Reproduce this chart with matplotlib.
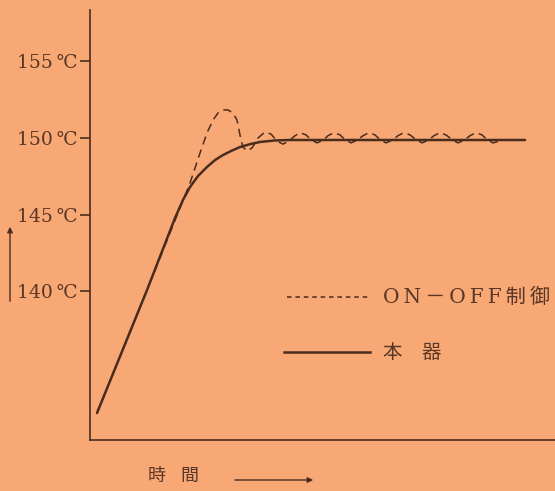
import matplotlib
matplotlib.use("Agg")
import matplotlib.pyplot as plt

# ---- data (time in arbitrary units, temperature in ℃) ----
solid_t = [7, 57, 85, 93, 100, 108, 117, 125, 133, 142, 150, 160, 170, 185, 200, 435]
solid_T = [132.06, 140.08, 144.78, 145.96, 146.8, 147.52, 148.11, 148.56, 148.89,
           149.18, 149.41, 149.6, 149.74, 149.84, 149.87, 149.87]

dash_t = [7, 57, 100, 110, 117, 123, 128, 133, 138, 143, 147, 149, 151, 153, 157, 162,
          168, 175, 181, 187, 193,
          199, 204, 210, 216, 221, 227, 233, 238, 244, 250, 255, 261, 267, 273, 279, 285,
          290, 296, 302, 308, 314, 320, 326, 332, 338, 344, 350, 356, 362, 368, 374, 380,
          386, 392, 397, 403, 410]
dash_T = [132.06, 140.08, 147.06, 149.02, 150.33, 151.17, 151.63, 151.83, 151.83, 151.63,
          151.17, 150.52, 149.87, 149.41, 149.15, 149.35, 150.0, 150.39, 150.26, 149.8, 149.6,
          149.8, 150.1, 150.35, 150.2, 149.9, 149.68, 149.85, 150.15, 150.35, 150.2, 149.9,
          149.68, 149.85, 150.15, 150.35, 150.2, 149.9, 149.68, 149.85, 150.15, 150.35,
          150.2, 149.9, 149.68, 149.85, 150.15, 150.35, 150.2, 149.9, 149.68, 149.85,
          150.15, 150.35, 150.2, 149.9, 149.68, 149.8]

yticks = [140, 145, 150, 155]
ytick_labels = ["140\u2009℃", "145\u2009℃", "150\u2009℃", "155\u2009℃"]
legend_labels = ["O\u2009N\u2009－\u2009O\u2009F\u2009F\u2009制\u2009御", "本　器"]
xlabel_chars = ["時", "間"]

BG = "#F8A874"
INK = "#4A2C1E"
TXT = "#5A3626"
FAM = ["DejaVu Serif", "Noto Sans CJK JP"]
CJK = ["Noto Sans CJK JP", "DejaVu Serif"]

fig = plt.figure(figsize=(5.55, 4.91), dpi=100)
fig.patch.set_facecolor(BG)
ax = fig.add_axes([90 / 555, 1 - 440 / 491, 1 - 90 / 555, (440 - 10) / 491])
ax.set_facecolor(BG)

ax.plot(dash_t, dash_T, color=INK, lw=1.1, linestyle=(0, (5.5, 3.5)))
ax.plot(solid_t, solid_T, color=INK, lw=1.8, solid_capstyle="round")

ax.set_xlim(0, 465)
ax.set_ylim(130.3, 158.35)
ax.set_xticks([])
ax.set_yticks(yticks)
ax.set_yticklabels(ytick_labels, family=FAM, fontsize=13.5, color=TXT)
ax.tick_params(axis="y", direction="out", length=7, width=1.2, color=INK, pad=2)
for s in ["top", "right"]:
    ax.spines[s].set_visible(False)
for s in ["left", "bottom"]:
    ax.spines[s].set_color(INK)
    ax.spines[s].set_linewidth(1.2)

W, H = 555, 491
fig.add_artist(plt.Line2D([287 / W, 370 / W], [1 - 297 / H] * 2, color=INK, lw=1.1,
                          linestyle=(0, (3, 2.5))))
fig.text(383 / W, 1 - 297 / H, legend_labels[0], family=FAM, fontsize=14.5, color=TXT,
         va="center", ha="left")
fig.add_artist(plt.Line2D([284 / W, 370 / W], [1 - 352 / H] * 2, color=INK, lw=1.8))
fig.text(383 / W, 1 - 352 / H, legend_labels[1], family=CJK, fontsize=14, color=TXT,
         va="center", ha="left")

# x label with arrow
fig.text(148 / W, 1 - 476 / H, xlabel_chars[0], family=CJK, fontsize=13, color=TXT,
         va="center", ha="left")
fig.text(180 / W, 1 - 476 / H, xlabel_chars[1], family=CJK, fontsize=13, color=TXT,
         va="center", ha="left")
fig.add_artist(matplotlib.patches.FancyArrowPatch((232 / W, 1 - 480 / H), (316 / W, 1 - 480 / H),
               transform=fig.transFigure, arrowstyle="-|>", mutation_scale=8,
               color=INK, lw=1.0))
# y arrow
fig.add_artist(matplotlib.patches.FancyArrowPatch((10 / W, 1 - 304 / H), (10 / W, 1 - 224 / H),
               transform=fig.transFigure, arrowstyle="-|>", mutation_scale=8,
               color=INK, lw=1.0))

fig.savefig("out.png", dpi=100, facecolor=BG)
